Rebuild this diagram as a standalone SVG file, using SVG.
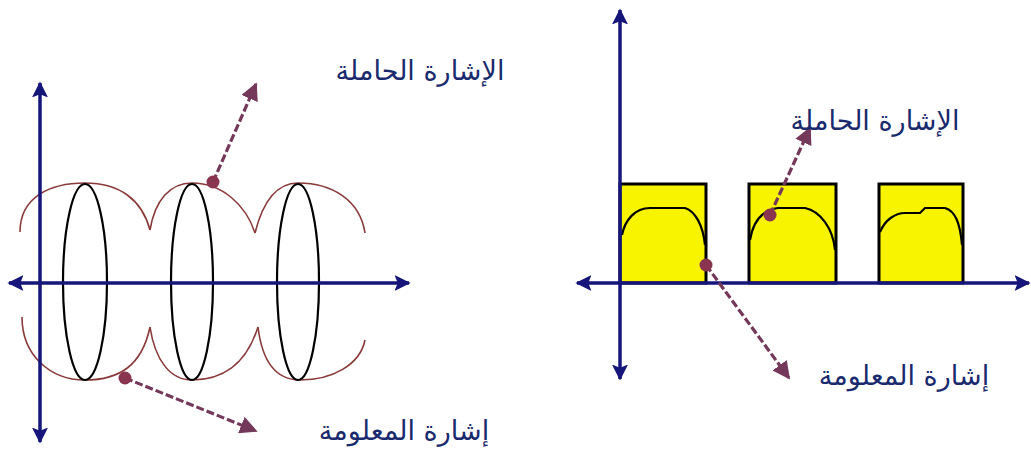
<svg xmlns="http://www.w3.org/2000/svg" width="1031" height="474" viewBox="0 0 1031 474">
<defs>
<marker id="ax" viewBox="0 0 10 10" refX="9" refY="5" markerWidth="4.6" markerHeight="4.6" orient="auto-start-reverse" markerUnits="strokeWidth"><path d="M0,0 L10,5 L0,10 L2,5 z" fill="#15157a"/></marker>
<marker id="pt" viewBox="0 0 10 10" refX="9" refY="5" markerWidth="5.5" markerHeight="5.5" orient="auto" markerUnits="strokeWidth"><path d="M0,0 L10,5 L0,10 z" fill="#74385a"/></marker>
<style>
.axis{stroke:#15157a;stroke-width:3.5;fill:none}
.carrier{stroke:#8a3a3a;stroke-width:1.6;fill:none}
.ell{stroke:#000;stroke-width:2.2;fill:none}
.ptr{stroke:#74385a;stroke-width:3.2;fill:none;stroke-dasharray:8 3;marker-end:url(#pt)}
.dot{fill:#8a3550}
.box{fill:#f8f400;stroke:#000;stroke-width:3}
.env{stroke:#000;stroke-width:2.2;fill:none}
.lbl{font-family:"DejaVu Sans",sans-serif;font-size:27px;fill:#1a2a6e;text-anchor:middle}
</style>
</defs>
<rect width="1031" height="474" fill="#fff"/>
<g id="left-panel">
<g id="left-carrier">
<path class="carrier" d="M20,232 C20,197 50,183 85,183 C120,183 142,200 150,230"/>
<path class="carrier" d="M150,230 C155,200 170,183 192,183 C222,183 246,205 255,233"/>
<path class="carrier" d="M255,233 C262,205 275,183 298,183 C332,183 360,200 365,233"/>
<path class="carrier" d="M22,317 C22,355 50,380 85,380 C120,380 142,365 150,327"/>
<path class="carrier" d="M150,327 C155,360 170,380 192,380 C222,380 246,365 258,327"/>
<path class="carrier" d="M258,327 C262,360 275,380 300,380 C332,380 360,365 365,340"/>
</g>
<g id="left-info">
<ellipse class="ell" cx="85" cy="282" rx="22" ry="98"/>
<ellipse class="ell" cx="192" cy="282" rx="21" ry="98"/>
<ellipse class="ell" cx="298" cy="282" rx="21" ry="98"/>
</g>
<g id="left-axes">
<line class="axis" x1="40" y1="442" x2="40" y2="83" marker-end="url(#ax)" marker-start="url(#ax)"/>
<line class="axis" x1="9" y1="283" x2="409" y2="283" marker-end="url(#ax)" marker-start="url(#ax)"/>
</g>
<g id="left-pointers">
<line class="ptr" x1="213" y1="182" x2="256" y2="84"/>
<circle class="dot" cx="213" cy="182" r="6.5"/>
<line class="ptr" x1="125" y1="378" x2="256" y2="431"/>
<circle class="dot" cx="125" cy="378" r="6.5"/>
</g>
<g id="left-labels">
<text class="lbl" x="420" y="80">الإشارة الحاملة</text>
<text class="lbl" x="404" y="440">إشارة المعلومة</text>
</g>
</g>
<g id="right-panel">
<g id="right-boxes">
<rect class="box" x="620" y="184" width="86" height="99"/>
<rect class="box" x="749" y="184" width="87" height="99"/>
<rect class="box" x="879" y="184" width="84" height="99"/>
</g>
<g id="right-envelopes">
<path class="env" d="M622,235 C625,220 635,208 650,208 L685,208 C695,211 703,225 705,245"/>
<path class="env" d="M750,240 C753,222 762,210 778,208 L805,208 C820,211 833,228 835,250"/>
<path class="env" d="M880,232 C885,220 895,213 905,213 L920,213 L925,208 L945,208 C955,211 960,222 962,245"/>
</g>
<g id="right-axes">
<line class="axis" x1="620" y1="379" x2="620" y2="10" marker-end="url(#ax)" marker-start="url(#ax)"/>
<line class="axis" x1="577" y1="283" x2="1029" y2="283" marker-end="url(#ax)" marker-start="url(#ax)"/>
</g>
<g id="right-pointers">
<line class="ptr" x1="706" y1="265" x2="789" y2="378"/>
<circle class="dot" cx="706" cy="265" r="6.5"/>
<line class="ptr" x1="770" y1="215" x2="810" y2="128"/>
<circle class="dot" cx="770" cy="215" r="6.5"/>
</g>
<g id="right-labels">
<text class="lbl" x="875" y="130">الإشارة الحاملة</text>
<text class="lbl" x="904" y="385">إشارة المعلومة</text>
</g>
</g>
</svg>
